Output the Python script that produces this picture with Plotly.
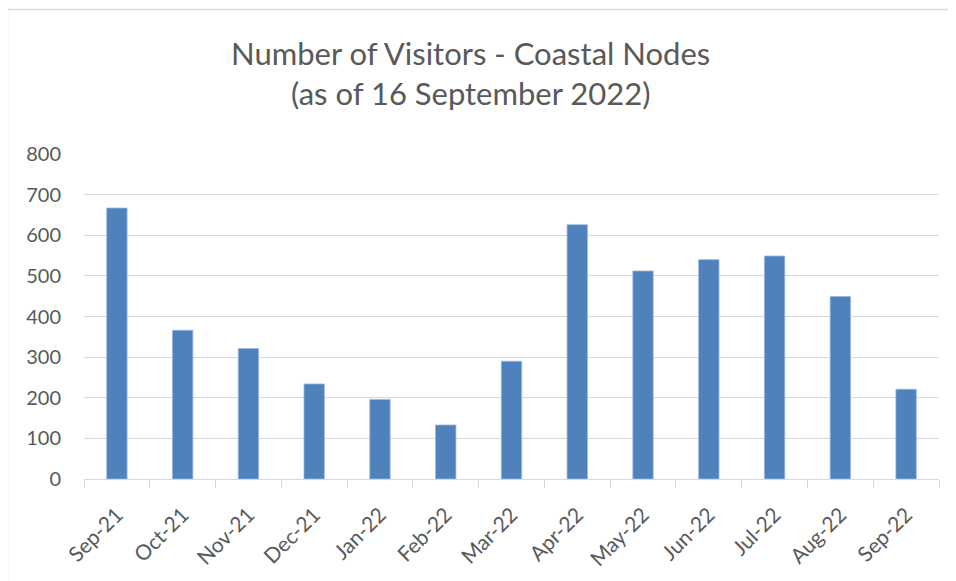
import plotly.graph_objects as go

months = ["Sep-21", "Oct-21", "Nov-21", "Dec-21", "Jan-22", "Feb-22", "Mar-22",
          "Apr-22", "May-22", "Jun-22", "Jul-22", "Aug-22", "Sep-22"]
visitors = [667, 366, 321, 234, 196, 133, 290, 626, 512, 540, 549, 449, 221]
y_ticks = [0, 100, 200, 300, 400, 500, 600, 700, 800]
title_lines = ["Number of Visitors - Coastal Nodes", "(as of 16 September 2022)"]

OFF = 8  # page body margin in the browser
W, H = 956 - OFF, 581 - OFF
L, R, T, B = 84 - OFF, 17, 154 - OFF, 102
pw, ph = W - L - R, H - T - B

def px_x(px):  # reference pixel -> paper x
    return (px - OFF - L) / pw

def px_y(py):  # reference pixel -> paper y
    return 1 - (py - OFF - T) / ph

font = "Lato, 'Open Sans', sans-serif"
grey = "#595959"
line_grey = "#d9d9d9"

fig = go.Figure()
fig.add_trace(go.Bar(
    x=months, y=visitors,
    marker=dict(color="#4f81bd", line=dict(color="#9ab7dc", width=0.8)),
))

annotations = [
    dict(text=title_lines[0], xref="paper", yref="paper",
         x=px_x(470), y=px_y(53), xanchor="center", yanchor="middle",
         showarrow=False, font=dict(family=font, size=31, color=grey)),
    dict(text=title_lines[1], xref="paper", yref="paper",
         x=px_x(470), y=px_y(93), xanchor="center", yanchor="middle",
         showarrow=False, font=dict(family=font, size=31, color=grey)),
]

fig.update_layout(
    width=W, height=H,
    margin=dict(l=L, r=R, t=T, b=B, autoexpand=False),
    paper_bgcolor="white", plot_bgcolor="white",
    bargap=0.69,
    showlegend=False,
    font=dict(family=font, color=grey),
    annotations=annotations,
    xaxis=dict(
        type="category",
        tickangle=-45,
        tickson="boundaries",
        ticks="outside", ticklen=8, tickcolor=line_grey, tickwidth=1.3,
        showline=True, linecolor=line_grey, linewidth=1.3,
        showgrid=False,
        tickfont=dict(family=font, size=21, color=grey),
        ticklabelstandoff=14,
    ),
    yaxis=dict(
        range=[0, 800],
        tickvals=y_ticks,
        showgrid=True, gridcolor=line_grey, gridwidth=1.3,
        zeroline=False, showline=False,
        tickfont=dict(family=font, size=20, color=grey),
        ticklabelstandoff=22,
    ),
    shapes=[
        dict(type="line", xref="paper", yref="paper",
             x0=px_x(7.5), x1=px_x(7.5),
             y0=px_y(9.5), y1=px_y(600),
             line=dict(color=line_grey, width=1.5)),
        dict(type="line", xref="paper", yref="paper",
             x0=px_x(7.5), x1=px_x(980),
             y0=px_y(9.5), y1=px_y(9.5),
             line=dict(color=line_grey, width=1.5)),
    ],
)

fig.write_html("out.html")
